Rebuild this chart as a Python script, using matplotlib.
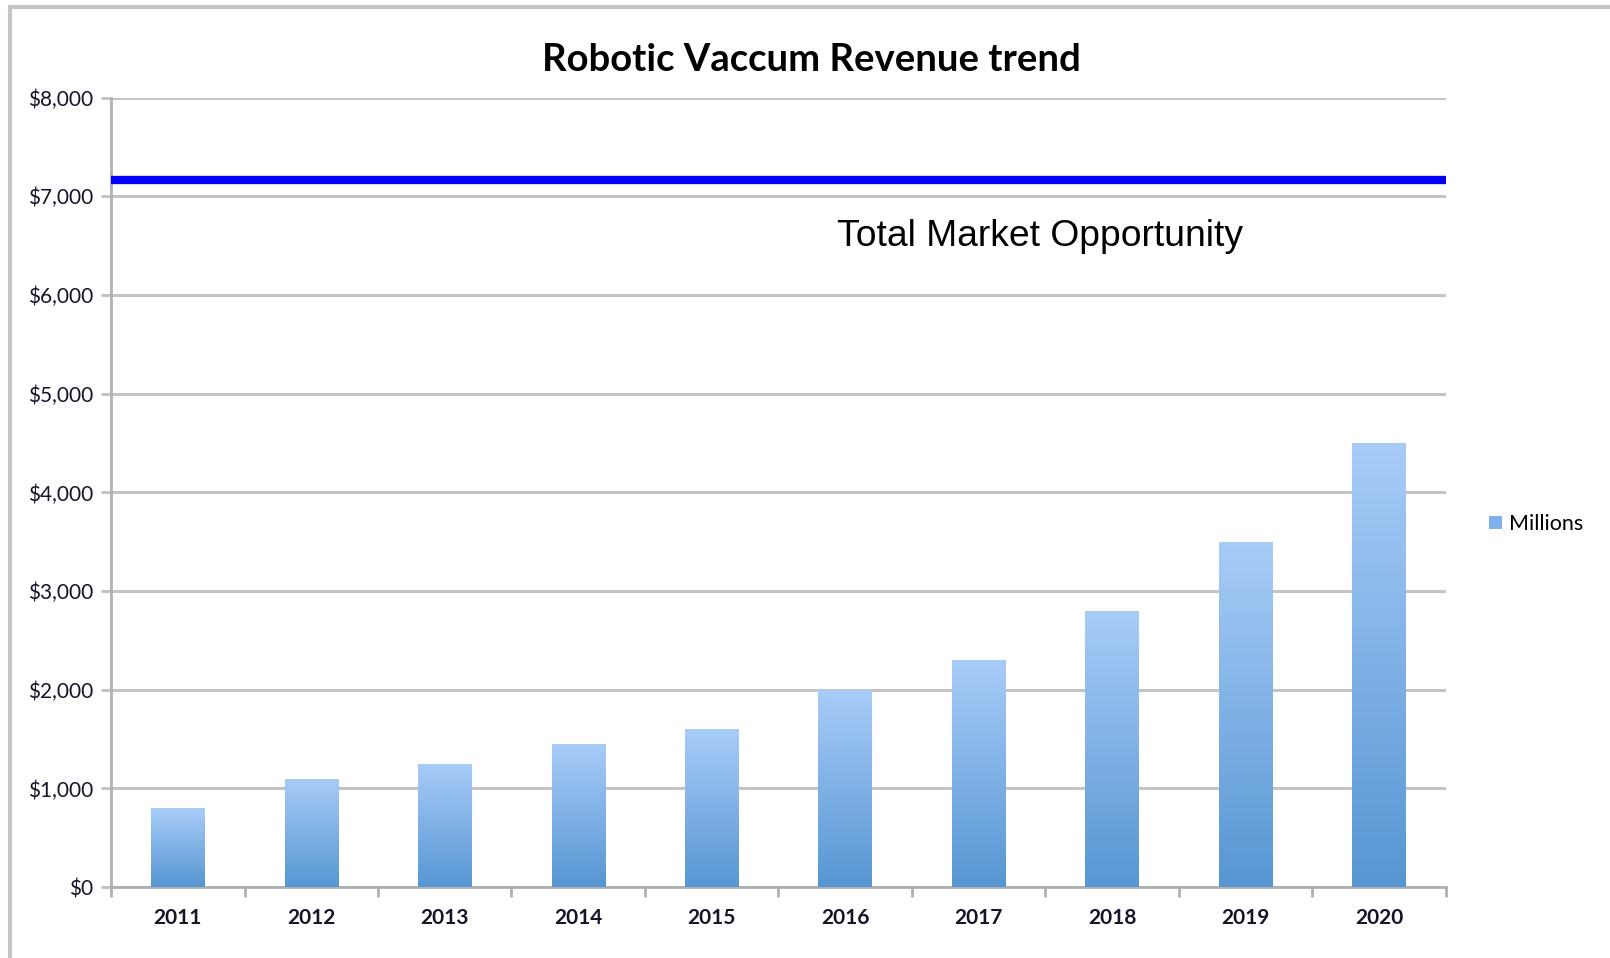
import numpy as np
import matplotlib.pyplot as plt
from matplotlib.patches import Rectangle

# chart data
years = ['2011', '2012', '2013', '2014', '2015', '2016', '2017', '2018', '2019', '2020']
revenue = [800, 1100, 1250, 1450, 1600, 2000, 2300, 2800, 3500, 4500]
market_total = 7170
y_ticks = [0, 1000, 2000, 3000, 4000, 5000, 6000, 7000, 8000]
y_tick_labels = ['$0', '$1,000', '$2,000', '$3,000', '$4,000', '$5,000', '$6,000', '$7,000', '$8,000']

plt.rcParams['font.family'] = ['Lato', 'DejaVu Sans']

fig = plt.figure(figsize=(16.1, 9.58), dpi=100)
ax = fig.add_axes([0.069, 0.074, 0.829, 0.824])

# gray frame around the chart area
fig.patches.append(Rectangle((0.0065, -0.1), 1.2, 1.093, transform=fig.transFigure,
                             fill=False, edgecolor='#c4c4c4', linewidth=3))

x = np.arange(len(years))
bars = ax.bar(x, revenue, width=0.4, color='#7fb0ea', label='Millions', zorder=3)

# vertical gradient for each bar
grad = np.linspace(0, 1, 256).reshape(-1, 1)
cmap = plt.matplotlib.colors.LinearSegmentedColormap.from_list('bluegrad', ['#5796d3', '#a8ccf8'])
for b in bars:
    bx, by = b.get_x(), b.get_y()
    w, h = b.get_width(), b.get_height()
    im = ax.imshow(grad, cmap=cmap, origin='lower', aspect='auto',
                   extent=(bx, bx + w, by, by + h), zorder=4)
    im.set_clip_path(b)

ax.axhline(market_total, color='#0000ff', linewidth=6, zorder=5)
ax.text(4.94, 6590, 'Total Market Opportunity', fontsize=26.8, family='Liberation Sans',
        ha='left', va='center', color='black')

ax.set_xlim(-0.5, len(years) - 0.5)
ax.set_ylim(0, 8000)
ax.set_yticks(y_ticks)
ax.set_yticklabels(y_tick_labels, fontsize=15, color='#15152a')
ax.set_xticks(x)
ax.set_xticklabels(years, fontsize=15, fontweight='bold', color='#15152a')
ax.set_xticks(np.arange(-0.5, len(years)), minor=True)
ax.tick_params(axis='x', which='major', length=0, pad=15)
ax.tick_params(axis='x', which='minor', length=7, width=2, color='#b0b0b0')
ax.tick_params(axis='y', length=7, width=2, color='#c0c0c0', pad=6)

ax.grid(axis='y', color='#c4c4c4', linewidth=2.2, zorder=0)
ax.set_axisbelow(True)
for side in ['top', 'right']:
    ax.spines[side].set_visible(False)
for side in ['left', 'bottom']:
    ax.spines[side].set_color('#b0b0b0')
    ax.spines[side].set_linewidth(2)

fig.text(0.504, 0.937, 'Robotic Vaccum Revenue trend', fontsize=27.5, fontweight='bold',
         ha='center', va='center', color='black')

fig.legend(handles=[bars], labels=['Millions'], loc='center left', bbox_to_anchor=(0.913, 0.453),
           frameon=False, fontsize=15.5, handlelength=0.6, handleheight=0.6, handletextpad=0.3)

fig.savefig('out.png', dpi=100)
